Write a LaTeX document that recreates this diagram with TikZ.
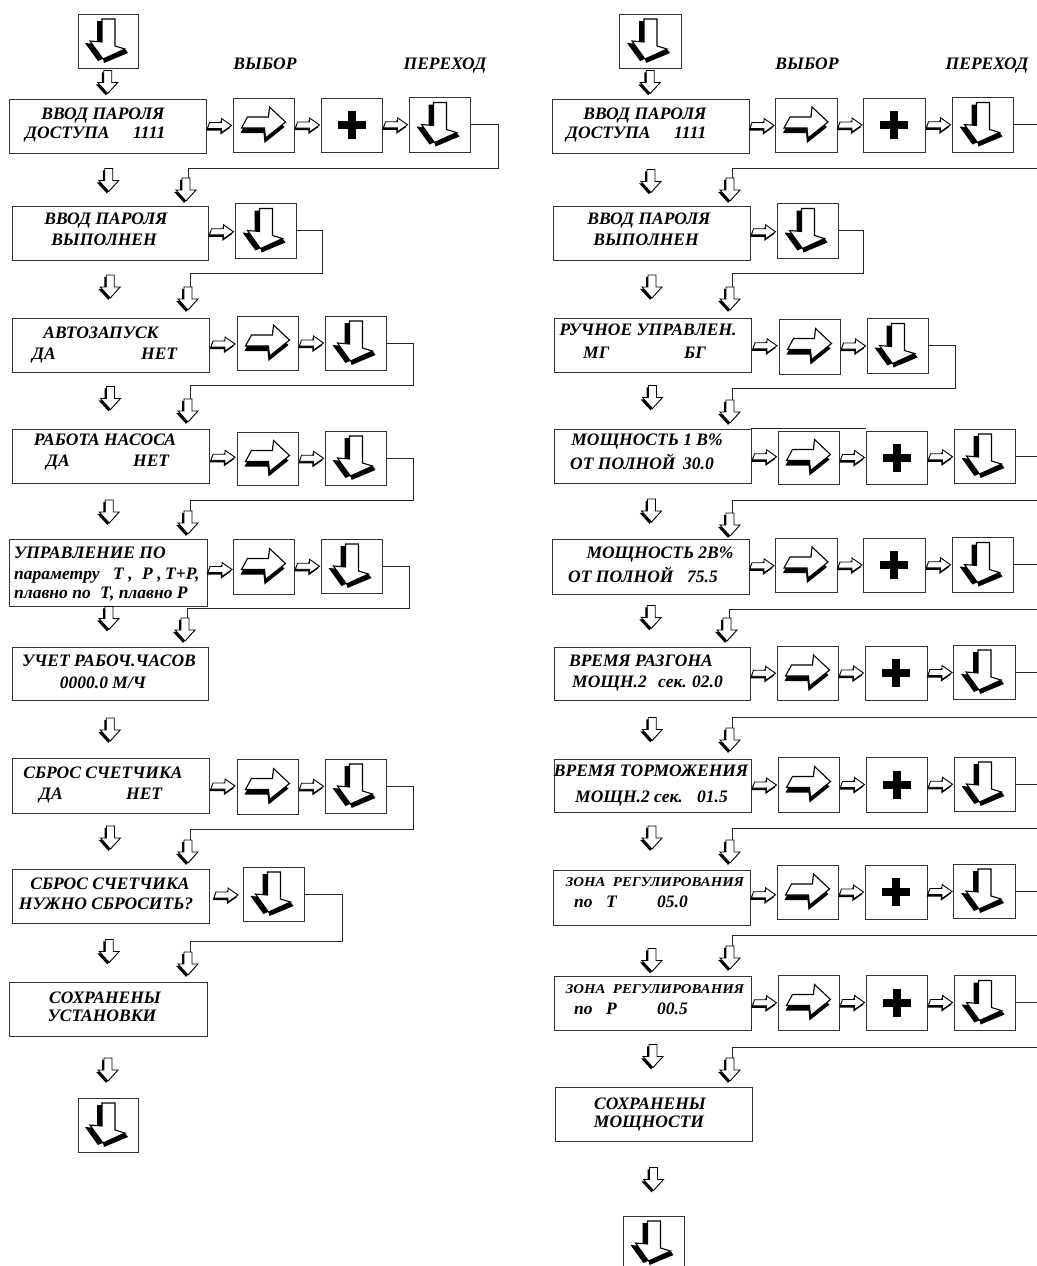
\documentclass[tikz,border=0pt]{standalone}
\usepackage{graphicx}
\usepackage{fontspec}
\setmainfont{Liberation Serif}
\usetikzlibrary{calc,fit}
\tikzset{
  box/.style={draw=black!80, line width=0.9pt, inner sep=0pt},
  fb/.style={draw=black!85, line width=0.9pt},
  txt/.style={inner sep=0pt, anchor=base, font=\fontsize{17.5}{20}\selectfont\bfseries\itshape},
  txtl/.style={txt, anchor=base west},
  smalltxt/.style={font=\fontsize{13.5}{15}\selectfont\bfseries\itshape},
  hdr/.style={txt, font=\fontsize{17.5}{20}\selectfont\bfseries\itshape},
  bigdown/.pic={
    \fill[shift={(-5,2)}] (-6,-22) -- (7,-22) -- (7,5) -- (17,8) -- (-5,18) -- (-18,0) -- (-6,1) -- cycle;
    \fill (17,8) -- (20,12) -- (-4,22) -- (-5,18) -- cycle;
    \filldraw[fill=white, line width=1.1pt] (-6,-22) -- (7,-22) -- (7,5) -- (17,8) -- (-5,18) -- (-18,0) -- (-6,1) -- cycle;
  },
  bigright/.pic={
    \fill[shift={(-1,5)}] (-16,-8) -- (5,-8) -- (6,-18) -- (22,-3) -- (2,13) -- (1,3) -- (-22,3) -- cycle;
    \filldraw[fill=white, line width=1.1pt] (-16,-8) -- (5,-8) -- (6,-18) -- (22,-3) -- (2,13) -- (1,3) -- (-22,3) -- cycle;
  },
  sright/.pic={
    \fill[shift={(-1.2,2.2)}] (-10,-3) -- (2,-3) -- (2,-7) -- (12,0) -- (2,7) -- (2,3) -- (-12,3) -- cycle;
    \filldraw[fill=white, line width=0.9pt] (-10,-3) -- (2,-3) -- (2,-7) -- (12,0) -- (2,7) -- (2,3) -- (-12,3) -- cycle;
  },
  sdown/.pic={
    \fill[shift={(-2,1.8)}] (-4,-11) -- (4,-11) -- (4,1) -- (10,1) -- (0,12) -- (-10,1) -- (-4,1) -- cycle;
    \filldraw[fill=white, line width=0.9pt] (-4,-11) -- (4,-11) -- (4,1) -- (10,1) -- (0,12) -- (-10,1) -- (-4,1) -- cycle;
  },
  plus/.pic={
    \fill (-14,-4) rectangle (14,4);
    \fill (-4,-14) rectangle (4,14);
  },
}
\newcommand\bx[5]{\node[box, fit={(#2,#3) (#4,#5)}] (#1) {};}
\begin{document}
\begin{tikzpicture}[x=1pt,y=-1pt]
\fill[white] (0,0) rectangle (1036,1266);
\useasboundingbox (0,0) rectangle (1036,1266);
\coordinate (E) at (1040,0);

% ---------------- LEFT COLUMN boxes ----------------
\bx{Ltop}{78}{14}{138}{68}
\bx{Lm1}{9}{99}{206}{153} \bx{Ls1}{233}{98}{294}{152} \bx{Lp1}{321}{98}{382}{152} \bx{Ld1}{409}{97}{470}{152}
\bx{Lm2}{12}{206}{208}{260} \bx{Ld2}{235}{203}{296}{258}
\bx{Lm3}{12}{318}{209}{372} \bx{Ls3}{237}{316}{298}{370} \bx{Ld3}{325}{316}{386}{370}
\bx{Lm4}{12}{429}{209}{483} \bx{Ls4}{237}{432}{298}{485} \bx{Ld4}{325}{431}{386}{485}
\bx{Lm5}{9}{539}{207}{606} \bx{Ls5}{233}{539}{294}{594} \bx{Ld5}{321}{539}{382}{593}
\bx{Lm6}{12}{647}{208}{700}
\bx{Lm7}{12}{758}{209}{813} \bx{Ls7}{237}{759}{298}{814} \bx{Ld7}{325}{759}{386}{813}
\bx{Lm8}{12}{869}{209}{923} \bx{Ld8}{243}{867}{304}{921}
\bx{Lm9}{9}{982}{207}{1036}
\bx{Lbot}{78}{1098}{138}{1152}

% ---------------- RIGHT COLUMN boxes ----------------
\bx{Rtop}{619}{14}{681}{68}
\bx{Rm1}{552}{99}{749}{153} \bx{Rs1}{775}{98}{837}{152} \bx{Rp1}{863}{98}{925}{152} \bx{Rd1}{952}{97}{1013}{152}
\bx{Rm2}{553}{206}{750}{260} \bx{Rd2}{777}{203}{838}{258}
\bx{Rm3}{554}{318}{751}{372} \bx{Rs3}{779}{319}{840}{374} \bx{Rd3}{867}{318}{928}{373}
\bx{Rm4}{554}{429}{751}{483} \bx{Rs4}{778}{431}{839}{484} \bx{Rp4}{866}{431}{927}{484} \bx{Rd4}{954}{429}{1015}{483}
\bx{Rm5}{552}{539}{749}{594} \bx{Rs5}{775}{538}{837}{592} \bx{Rp5}{863}{538}{925}{592} \bx{Rd5}{952}{537}{1013}{592}
\bx{Rm6}{554}{647}{750}{700} \bx{Rs6}{777}{646}{838}{700} \bx{Rp6}{865}{646}{927}{700} \bx{Rd6}{953}{645}{1015}{699}
\bx{Rm7}{554}{759}{751}{812} \bx{Rs7}{778}{757}{839}{812} \bx{Rp7}{866}{757}{927}{812} \bx{Rd7}{954}{757}{1015}{811}
\bx{Rm8}{553}{870}{750}{925} \bx{Rs8}{777}{865}{838}{919} \bx{Rp8}{865}{865}{927}{919} \bx{Rd8}{953}{864}{1015}{918}
\bx{Rm9}{554}{976}{751}{1030} \bx{Rs9}{778}{975}{839}{1030} \bx{Rp9}{866}{975}{927}{1030} \bx{Rd9}{954}{975}{1015}{1030}
\bx{Rm10}{555}{1087}{752}{1141}
\bx{Rbot}{623}{1216}{684}{1270}
\draw[fb] (Rm4.north east) -- (Rm4.north east -| Rp4.west);

% ---------------- glyphs in boxes ----------------
\foreach \n in {Ltop,Ld1,Ld2,Ld3,Ld4,Ld5,Ld7,Ld8,Lbot,Rtop,Rd1,Rd2,Rd3,Rd4,Rd5,Rd6,Rd7,Rd8,Rd9,Rbot}
  \pic at (\n) {bigdown};
\foreach \n in {Ls1,Ls3,Ls4,Ls5,Ls7,Rs1,Rs3,Rs4,Rs5,Rs6,Rs7,Rs8,Rs9}
  \pic at (\n) {bigright};
\foreach \n in {Lp1,Rp1,Rp4,Rp5,Rp6,Rp7,Rp8,Rp9}
  \pic at (\n) {plus};

% ---------------- small right arrows ----------------
\foreach \a/\b in {Lm1/Ls1,Ls1/Lp1,Lp1/Ld1,Lm2/Ld2,Lm3/Ls3,Ls3/Ld3,Lm4/Ls4,Ls4/Ld4,Lm5/Ls5,Ls5/Ld5,Lm7/Ls7,Ls7/Ld7,Lm8/Ld8,
  Rm1/Rs1,Rs1/Rp1,Rp1/Rd1,Rm2/Rd2,Rm3/Rs3,Rs3/Rd3,Rm4/Rs4,Rs4/Rp4,Rp4/Rd4,Rm5/Rs5,Rs5/Rp5,Rp5/Rd5,Rm6/Rs6,Rs6/Rp6,Rp6/Rd6,
  Rm7/Rs7,Rs7/Rp7,Rp7/Rd7,Rm8/Rs8,Rs8/Rp8,Rp8/Rd8,Rm9/Rs9,Rs9/Rp9,Rp9/Rd9}
  \pic at ($(\a.east)!0.5!(\b.west)$) {sright};

% ---------------- small down arrows in the main columns ----------------
\foreach \a/\b/\s in {Ltop/Lm1/-2,Lm1/Lm2/0,Lm2/Lm3/-3,Lm3/Lm4/-3,Lm4/Lm5/0,Lm5/Lm6/-9,Lm6/Lm7/0,Lm7/Lm8/-4,Lm8/Lm9/-2,Lm9/Lbot/2,
  Rtop/Rm1/-2,Rm1/Rm2/1,Rm2/Rm3/-3,Rm3/Rm4/-4,Rm4/Rm5/-1,Rm5/Rm6/-4,Rm6/Rm7/-1,Rm7/Rm8/-4,Rm8/Rm9/9,Rm9/Rm10/-3,Rm10/Rbot/0}
  \pic at ($(\a.south)!0.5!(\b.north)+(0,\s)$) {sdown};

% ---------------- feedback lines, left ----------------
\coordinate (Lf1) at (188,178); \draw[fb] (Ld1.east) -| (498,168) -| (Lf1);
\coordinate (Lf2) at (190,287); \draw[fb] (Ld2.east) -| (322,273) -| (Lf2);
\coordinate (Lf3) at (190,399); \draw[fb] (Ld3.east) -| (413,385) -| (Lf3);
\coordinate (Lf4) at (190,511); \draw[fb] (Ld4.east) -| (413,500) -| (Lf4);
\coordinate (Lf5) at (187,618); \draw[fb] (Ld5.east) -| (409,608) -| (Lf5);
\coordinate (Lf7) at (190,840); \draw[fb] (Ld7.east) -| (413,829) -| (Lf7);
\coordinate (Lf8) at (190,952); \draw[fb] (Ld8.east) -| (342,941) -| (Lf8);
\foreach \f in {Lf1,Lf2,Lf3,Lf4,Lf5,Lf7,Lf8}
  \pic at ($(\f)+(-2,11)$) {sdown};

% ---------------- feedback lines, right ----------------
\coordinate (Rf1) at (732,178); \draw[fb] (Rd1.east) -- (Rd1.east -| E); \draw[fb] (1040,168) -| (Rf1);
\coordinate (Rf2) at (732,287); \draw[fb] (Rd2.east) -| (863,273) -| (Rf2);
\coordinate (Rf3) at (732,400); \draw[fb] (Rd3.east) -| (955,388) -| (Rf3);
\coordinate (Rf4) at (732,513); \draw[fb] (Rd4.east) -- (Rd4.east -| E); \draw[fb] (1040,500) -| (Rf4);
\coordinate (Rf5) at (729,618); \draw[fb] (Rd5.east) -- (Rd5.east -| E); \draw[fb] (1040,609) -| (Rf5);
\coordinate (Rf6) at (732,728); \draw[fb] (Rd6.east) -- (Rd6.east -| E); \draw[fb] (1040,717) -| (Rf6);
\coordinate (Rf7) at (732,840); \draw[fb] (Rd7.east) -- (Rd7.east -| E); \draw[fb] (1040,828) -| (Rf7);
\coordinate (Rf8) at (732,946); \draw[fb] (Rd8.east) -- (Rd8.east -| E); \draw[fb] (1040,935) -| (Rf8);
\coordinate (Rf9) at (732,1058); \draw[fb] (Rd9.east) -- (Rd9.east -| E); \draw[fb] (1040,1047) -| (Rf9);
\foreach \f in {Rf1,Rf2,Rf3,Rf4,Rf5,Rf6,Rf7,Rf8,Rf9}
  \pic at ($(\f)+(-2,11)$) {sdown};

% ---------------- headers ----------------
\node[hdr] (Lsel) at (265,69) {ВЫБОР};
\node[hdr] (Lgo) at (445,69) {ПЕРЕХОД};
\node[hdr] (Rsel) at (807,69) {ВЫБОР};
\node[hdr] (Rgo) at (987,69) {ПЕРЕХОД};

% ---------------- left texts ----------------
\node[txt] (L1a) at (103,119) {ВВОД ПАРОЛЯ};
\node[txtl] (L1b) at (25,138) {ДОСТУПА};
\node[txtl] (L1c) at (133,138) {1111};
\node[txt] (L2a) at (106,224) {ВВОД ПАРОЛЯ};
\node[txt] (L2b) at (104,245) {ВЫПОЛНЕН};
\node[txt] (L3a) at (101,338) {АВТОЗАПУСК};
\node[txtl] (L3b) at (32,359) {ДА};
\node[txtl] (L3c) at (141,359) {НЕТ};
\node[txt] (L4a) at (105,445) {РАБОТА НАСОСА};
\node[txtl] (L4b) at (46,466) {ДА};
\node[txtl] (L4c) at (133,466) {НЕТ};
\node[txtl] (L5a) at (14,558) {УПРАВЛЕНИЕ ПО};
\node[txtl] (L5b) at (14,579) {параметру};
\node[txtl] (L5c) at (113,579) {Т ,};
\node[txtl] (L5d) at (142,579) {Р ,};
\node[txtl] (L5e) at (165,579) {Т+Р,};
\node[txtl] (L5f) at (14,598) {плавно по};
\node[txtl] (L5g) at (100,598) {Т, плавно Р};
\node[txt] (L6a) at (109,666) {УЧЕТ РАБОЧ.ЧАСОВ};
\node[txt] (L6b) at (103,688) {0000.0 М/Ч};
\node[txt] (L7a) at (103,778) {СБРОС СЧЕТЧИКА};
\node[txtl] (L7b) at (39,799) {ДА};
\node[txtl] (L7c) at (126,799) {НЕТ};
\node[txt] (L8a) at (110,889) {СБРОС СЧЕТЧИКА};
\node[txt] (L8b) at (106,909) {НУЖНО СБРОСИТЬ?};
\node[txt] (L9a) at (105,1003) {СОХРАНЕНЫ};
\node[txt] (L9b) at (102,1021) {УСТАНОВКИ};

% ---------------- right texts ----------------
\node[txt] (R1a) at (645,119) {ВВОД ПАРОЛЯ};
\node[txtl] (R1b) at (566,138) {ДОСТУПА};
\node[txtl] (R1c) at (674,138) {1111};
\node[txt] (R2a) at (649,224) {ВВОД ПАРОЛЯ};
\node[txt] (R2b) at (646,245) {ВЫПОЛНЕН};
\node[txt] (R3a) at (648,335) {РУЧНОЕ УПРАВЛЕН.};
\node[txtl] (R3b) at (583,358) {МГ};
\node[txtl] (R3c) at (684,358) {БГ};
\node[txt] (R4a) at (647,445) {МОЩНОСТЬ 1 В\%};
\node[txtl] (R4b) at (570,469) {ОТ ПОЛНОЙ};
\node[txtl] (R4c) at (683,469) {30.0};
\node[txt] (R5a) at (660,558) {МОЩНОСТЬ 2В\%};
\node[txtl] (R5b) at (568,582) {ОТ ПОЛНОЙ};
\node[txtl] (R5c) at (687,582) {75.5};
\node[txt] (R6a) at (641,666) {ВРЕМЯ РАЗГОНА};
\node[txtl] (R6b) at (572,687) {МОЩН.2};
\node[txtl] (R6c) at (658,687) {сек.};
\node[txtl] (R6d) at (692,687) {02.0};
\node[txt] (R7a) at (651,776) {ВРЕМЯ ТОРМОЖЕНИЯ};
\node[txtl] (R7b) at (575,802) {МОЩН.2};
\node[txtl] (R7c) at (654,802) {сек.};
\node[txtl] (R7d) at (697,802) {01.5};
\node[txt, smalltxt] (R8a) at (655,886) {\scalebox{1.1}[1]{ЗОНА\ \ РЕГУЛИРОВАНИЯ}};
\node[txtl] (R8b) at (574,907) {по};
\node[txtl] (R8c) at (606,907) {Т};
\node[txtl] (R8d) at (657,907) {05.0};
\node[txt, smalltxt] (R9a) at (655,993) {\scalebox{1.1}[1]{ЗОНА\ \ РЕГУЛИРОВАНИЯ}};
\node[txtl] (R9b) at (574,1014) {по};
\node[txtl] (R9c) at (606,1014) {Р};
\node[txtl] (R9d) at (657,1014) {00.5};
\node[txt] (R10a) at (650,1109) {СОХРАНЕНЫ};
\node[txt] (R10b) at (649,1127) {МОЩНОСТИ};
\end{tikzpicture}
\end{document}
